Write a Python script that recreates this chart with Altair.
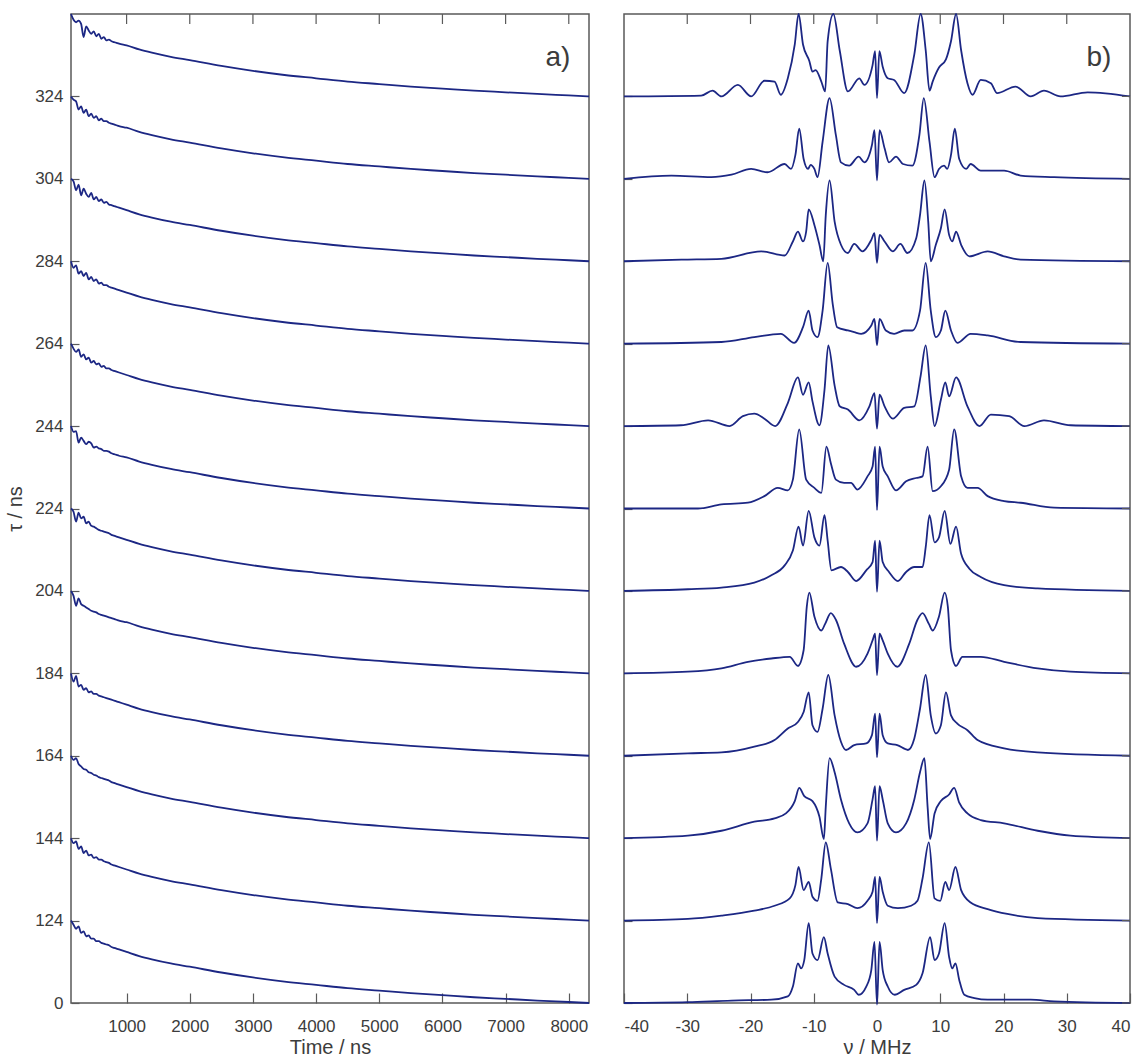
import altair as alt
import pandas as pd

FONT = "Liberation Sans"
LINE = "#1c2784"
GREY = "#5a5a5a"
TXT = "#3c3c3c"

# trace start values (tau, ns), bottom to top
TAU = [124, 144, 164, 184, 204, 224, 244, 264, 284, 304, 324, 344]
Y_TICKS = [104, 124, 144, 164, 184, 204, 224, 244, 264, 284, 304, 324]
X_TICKS_L = [1000, 2000, 3000, 4000, 5000, 6000, 7000, 8000]
X_TICKS_R = [-40, -30, -20, -10, 0, 10, 20, 30, 40]
TOP_TICKS_R = [-30, -20, -10, 0, 10, 20, 30]

# time grid (ns) for the echo decays
T_EARLY = [120, 160, 200, 240, 280, 320, 360, 400, 440, 480, 520, 560, 600, 640, 680, 720, 760, 800, 840, 880]
T_TAIL = [1000, 1200, 1400, 1700, 2000, 2500, 3000, 3500, 4000, 4500, 5000, 5500, 6000, 6500, 7000, 7500, 8000, 8320]

# normalised decay values, bottom trace first
DECAY_EARLY = [
    [1.00, 0.95, 0.90, 0.93, 0.85, 0.87, 0.81, 0.82, 0.78, 0.78, 0.75, 0.75, 0.73, 0.72, 0.71, 0.70, 0.68, 0.67, 0.66, 0.65],
    [1.00, 0.94, 0.96, 0.87, 0.90, 0.82, 0.85, 0.79, 0.80, 0.76, 0.77, 0.74, 0.74, 0.72, 0.71, 0.70, 0.68, 0.67, 0.66, 0.65],
    [1.00, 0.95, 0.97, 0.90, 0.87, 0.84, 0.83, 0.80, 0.79, 0.77, 0.76, 0.74, 0.73, 0.72, 0.71, 0.70, 0.68, 0.67, 0.66, 0.65],
    [1.00, 0.90, 0.97, 0.84, 0.86, 0.80, 0.82, 0.77, 0.78, 0.75, 0.75, 0.73, 0.72, 0.71, 0.70, 0.69, 0.68, 0.67, 0.66, 0.65],
    [1.00, 0.94, 0.82, 0.91, 0.84, 0.82, 0.80, 0.78, 0.76, 0.75, 0.74, 0.72, 0.71, 0.70, 0.69, 0.68, 0.67, 0.66, 0.65, 0.64],
    [1.00, 0.96, 0.84, 0.95, 0.88, 0.90, 0.82, 0.84, 0.79, 0.78, 0.76, 0.74, 0.73, 0.72, 0.71, 0.70, 0.68, 0.67, 0.66, 0.65],
    [1.00, 0.93, 0.94, 0.80, 0.86, 0.82, 0.78, 0.81, 0.79, 0.74, 0.75, 0.73, 0.72, 0.70, 0.70, 0.69, 0.67, 0.66, 0.65, 0.64],
    [1.00, 0.94, 0.90, 0.93, 0.84, 0.87, 0.81, 0.83, 0.77, 0.79, 0.75, 0.76, 0.72, 0.73, 0.70, 0.70, 0.68, 0.67, 0.66, 0.65],
    [1.00, 0.92, 0.95, 0.85, 0.88, 0.82, 0.86, 0.78, 0.81, 0.76, 0.78, 0.73, 0.74, 0.71, 0.71, 0.69, 0.68, 0.67, 0.66, 0.65],
    [1.00, 0.97, 0.86, 0.93, 0.80, 0.88, 0.82, 0.78, 0.83, 0.75, 0.78, 0.73, 0.75, 0.71, 0.72, 0.69, 0.68, 0.67, 0.66, 0.65],
    [1.00, 0.96, 0.94, 0.84, 0.88, 0.80, 0.84, 0.76, 0.79, 0.74, 0.76, 0.71, 0.73, 0.70, 0.70, 0.68, 0.67, 0.66, 0.65, 0.64],
    [1.00, 0.93, 0.90, 0.92, 0.88, 0.72, 0.85, 0.80, 0.76, 0.79, 0.73, 0.76, 0.70, 0.72, 0.68, 0.69, 0.67, 0.66, 0.65, 0.64],
]
DECAY_TAIL = [0.62, 0.57, 0.53, 0.48, 0.44, 0.37, 0.31, 0.26, 0.22, 0.18, 0.15, 0.12, 0.095, 0.07, 0.05, 0.03, 0.012, 0.0]

# spectra: (frequency MHz, normalised amplitude), bottom spectrum first
SPEC_0 = [(-40,0),(-29.9,0.01),(-23,0.03),(-16.7,0.04),(-14.1,0.08),(-13.3,0.2),(-12.5,0.48),(-12.0,0.42),(-11.5,0.52),(-10.8,0.97),(-10.2,0.6),(-9.4,0.52),(-8.4,0.8),(-7.8,0.6),(-6.7,0.32),(-5.2,0.22),(-3.6,0.16),(-2.9,0.1),(-1.7,0.2),(-0.9,0.4),(-0.4,0.74),(0,-0.02),(0.4,0.74),(0.9,0.4),(1.7,0.2),(2.8,0.1),(4.3,0.16),(6.2,0.22),(7.2,0.36),(8.4,0.8),(9.1,0.52),(9.8,0.6),(10.7,0.97),(11.4,0.56),(11.9,0.42),(12.4,0.48),(13.0,0.28),(13.8,0.1),(15.4,0.06),(17.5,0.04),(24.3,0.04),(28,0.02),(40,0)]
SPEC_1 = [(-40,0),(-29.9,0.02),(-24.6,0.06),(-19.4,0.12),(-16.2,0.18),(-13.8,0.27),(-12.9,0.43),(-12.4,0.65),(-11.6,0.37),(-10.8,0.47),(-10.2,0.29),(-9.4,0.24),(-8.8,0.51),(-8.1,0.95),(-7.3,0.63),(-6.2,0.22),(-4.6,0.2),(-3.1,0.15),(-1.5,0.24),(-0.7,0.35),(-0.3,0.53),(0,-0.03),(0.4,0.53),(0.9,0.35),(1.7,0.18),(3.3,0.15),(5.4,0.18),(6.4,0.24),(7.2,0.51),(8.2,0.95),(9.1,0.27),(10.0,0.24),(10.8,0.47),(11.4,0.37),(12.4,0.65),(13.3,0.37),(14.8,0.22),(17.5,0.14),(20.6,0.08),(25.4,0.03),(40,0)]
SPEC_2 = [(-40,0),(-29.9,0.03),(-24.6,0.09),(-19.4,0.2),(-16.2,0.24),(-14.4,0.3),(-13,0.45),(-12.3,0.61),(-11.5,0.51),(-10.2,0.45),(-9.1,0.26),(-8.4,-0.01),(-8.1,0.38),(-7.5,0.97),(-6.7,0.8),(-5.7,0.47),(-4.4,0.18),(-3.1,0.07),(-1.5,0.18),(-0.7,0.47),(-0.3,0.63),(0,-0.03),(0.4,0.63),(0.9,0.47),(1.7,0.18),(3.0,0.07),(4.6,0.18),(5.9,0.47),(6.8,0.8),(7.5,0.97),(8.0,0.38),(8.4,-0.01),(9.1,0.3),(10.1,0.45),(11.4,0.53),(12.2,0.61),(13.0,0.43),(14.3,0.3),(16.4,0.22),(20.1,0.18),(25.4,0.09),(30.6,0.03),(40,0)]
SPEC_3 = [(-40,0),(-29.9,0.03),(-24.6,0.04),(-19.4,0.11),(-16.2,0.19),(-14.1,0.33),(-12.5,0.41),(-11.6,0.53),(-10.8,0.77),(-10.2,0.37),(-9.4,0.29),(-8.6,0.57),(-7.7,0.98),(-6.7,0.49),(-5.7,0.17),(-4.9,0.07),(-3.6,0.13),(-1.7,0.15),(-0.8,0.25),(-0.3,0.51),(0,-0.02),(0.4,0.51),(0.9,0.25),(1.7,0.15),(3.2,0.13),(4.9,0.07),(5.9,0.21),(6.8,0.57),(7.7,0.98),(8.5,0.49),(9.3,0.27),(10.1,0.37),(10.9,0.77),(11.7,0.49),(12.7,0.39),(14.3,0.31),(15.9,0.19),(20.1,0.09),(25.4,0.04),(40,0)]
SPEC_4 = [(-40,0),(-29.9,0.02),(-24.6,0.06),(-20.4,0.14),(-16.7,0.18),(-13.8,0.2),(-12.5,0.09),(-11.6,0.28),(-11.1,0.81),(-10.7,0.98),(-9.9,0.69),(-8.8,0.52),(-8.2,0.6),(-7.3,0.73),(-6.5,0.65),(-5.2,0.36),(-3.3,0.08),(-1.5,0.24),(-0.7,0.4),(-0.3,0.48),(0,-0.02),(0.4,0.48),(0.9,0.4),(1.7,0.24),(3.2,0.08),(5.1,0.36),(6.4,0.65),(7.2,0.73),(8.2,0.6),(8.8,0.52),(9.8,0.69),(10.7,0.98),(11.2,0.81),(11.7,0.28),(12.5,0.09),(13.5,0.2),(16.4,0.2),(20.1,0.14),(25.4,0.06),(30.6,0.02),(40,0)]
SPEC_5 = [(-40,0),(-29.9,0.02),(-24.6,0.04),(-19.4,0.1),(-16.7,0.19),(-14.6,0.31),(-13.3,0.49),(-12.4,0.78),(-11.7,0.55),(-10.8,0.97),(-9.9,0.65),(-9.1,0.55),(-8.3,0.92),(-7.8,0.61),(-7.2,0.25),(-5.7,0.29),(-4.6,0.23),(-3.3,0.12),(-1.7,0.25),(-0.7,0.35),(-0.3,0.61),(0,-0.01),(0.4,0.61),(0.9,0.35),(1.9,0.23),(3.3,0.12),(4.6,0.23),(5.9,0.29),(7.2,0.29),(7.7,0.53),(8.3,0.92),(9.1,0.59),(9.8,0.65),(10.7,0.97),(11.6,0.57),(12.5,0.78),(13.3,0.45),(14.6,0.27),(16.4,0.17),(20.1,0.07),(25.4,0.03),(40,0)]
SPEC_6 = [(-40,0),(-28.3,0),(-24.6,0.05),(-20.4,0.07),(-17.8,0.15),(-15.7,0.25),(-14.1,0.22),(-13.3,0.35),(-12.3,0.96),(-11.2,0.35),(-9.9,0.25),(-8.8,0.19),(-8.0,0.75),(-7.3,0.55),(-6.5,0.35),(-5.2,0.31),(-4.1,0.31),(-3.1,0.23),(-1.5,0.39),(-0.7,0.51),(-0.3,0.75),(0,-0.02),(0.4,0.75),(0.9,0.51),(1.7,0.39),(3.0,0.22),(4.6,0.33),(6.2,0.37),(7.2,0.39),(8.0,0.75),(8.8,0.21),(10.1,0.27),(11.4,0.47),(12.2,0.96),(13.3,0.39),(14.3,0.25),(15.9,0.25),(17.5,0.15),(20.1,0.09),(22.7,0.07),(28,0.01),(40,0)]
SPEC_7 = [(-40,0),(-31,0.01),(-26.7,0.07),(-23.3,0),(-21.2,0.12),(-19.4,0.15),(-17.8,0.09),(-16.1,0),(-14.1,0.28),(-12.5,0.59),(-11.7,0.38),(-10.8,0.53),(-10.2,0.3),(-9.1,0.01),(-8.3,0.44),(-7.7,0.98),(-6.7,0.49),(-5.9,0.24),(-4.6,0.2),(-2.8,0.07),(-1.2,0.24),(-0.4,0.4),(0,-0.03),(0.4,0.38),(1.2,0.24),(2.5,0.09),(4.3,0.22),(5.9,0.24),(6.9,0.61),(7.7,0.98),(8.5,0.36),(9.1,0),(10.1,0.32),(10.8,0.53),(11.4,0.36),(12.5,0.59),(14.3,0.24),(16.2,0),(18,0.14),(20.9,0.12),(23.3,0),(26.4,0.07),(30.6,0.01),(40,0)]
SPEC_8 = [(-40,0),(-24.6,0.02),(-19.4,0.08),(-15.2,0.12),(-13.1,0.01),(-11.7,0.2),(-10.8,0.4),(-10.2,0.16),(-9.4,0.08),(-8.6,0.4),(-7.8,0.98),(-7.0,0.48),(-6.3,0.2),(-4.6,0.16),(-3.6,0.14),(-2.5,0.12),(-0.9,0.22),(-0.4,0.3),(0,-0.02),(0.4,0.3),(1.4,0.16),(2.7,0.12),(4.3,0.16),(5.6,0.16),(6.8,0.4),(7.7,0.98),(8.5,0.4),(9.3,0.08),(10.1,0.16),(10.8,0.4),(11.7,0.16),(12.7,0.01),(14.8,0.12),(17.5,0.1),(22.7,0.02),(40,0)]
SPEC_9 = [(-40,0),(-30.9,0.02),(-24.6,0.03),(-18.3,0.12),(-14.6,0.07),(-13.3,0.24),(-12.5,0.36),(-11.7,0.24),(-11.2,0.36),(-10.8,0.63),(-9.9,0.44),(-9.1,0.2),(-8.5,0),(-8.1,0.56),(-7.5,0.98),(-6.7,0.48),(-5.7,0.2),(-4.6,0.1),(-3.6,0.21),(-2.3,0.12),(-0.9,0.26),(-0.4,0.34),(0,-0.02),(0.4,0.32),(1.2,0.24),(2.5,0.12),(3.7,0.21),(4.8,0.1),(6.2,0.28),(6.8,0.56),(7.5,0.98),(8.1,0.48),(8.5,0),(9.3,0.2),(10.1,0.4),(10.7,0.63),(11.4,0.32),(11.9,0.24),(12.5,0.36),(13.3,0.2),(14.6,0.06),(17.5,0.12),(20.1,0.06),(22.7,0.02),(40,0)]
SPEC_10 = [(-40,0),(-32.5,0.04),(-26.2,0.02),(-23,0.05),(-19.9,0.12),(-17.3,0.08),(-14.6,0.18),(-13.6,0.12),(-12.9,0.29),(-12.3,0.61),(-11.6,0.24),(-10.9,0.12),(-10.5,0.17),(-9.9,0.12),(-9.4,0.02),(-8.6,0.45),(-7.5,0.98),(-6.5,0.53),(-5.7,0.2),(-4.4,0.16),(-2.9,0.27),(-2.0,0.2),(-0.8,0.41),(-0.4,0.59),(0,-0.02),(0.4,0.59),(1.2,0.37),(1.9,0.2),(3.0,0.27),(4.1,0.18),(5.6,0.16),(6.7,0.53),(7.4,0.98),(8.3,0.45),(9.1,0.02),(9.8,0.12),(10.6,0.16),(11.1,0.12),(11.7,0.29),(12.3,0.61),(13.0,0.24),(14.1,0.12),(14.8,0.18),(16.4,0.1),(20.1,0.1),(22.7,0.04),(28,0.02),(40,0)]
SPEC_11 = [(-40,0),(-27.8,0.01),(-26,0.07),(-24.6,0),(-22,0.14),(-19.9,0),(-17.8,0.19),(-16.2,0.18),(-15.2,0.02),(-14.1,0.22),(-13,0.63),(-12.4,1.0),(-11.7,0.63),(-10.7,0.43),(-10.2,0.3),(-9.7,0.32),(-8.8,0.18),(-8.2,0.06),(-7.8,0.67),(-6.9,1.0),(-5.9,0.56),(-4.6,0.06),(-2.8,0.22),(-2.0,0.14),(-0.7,0.38),(-0.3,0.55),(0,-0.02),(0.37,0.55),(0.9,0.36),(1.7,0.22),(2.7,0.2),(4.3,0.04),(5.9,0.51),(6.9,1.0),(7.7,0.56),(8.3,0.07),(8.8,0.18),(9.8,0.35),(10.9,0.45),(11.7,0.67),(12.5,1.0),(13.3,0.56),(14.3,0.16),(15.1,0.02),(16.4,0.2),(18,0.16),(19,0.04),(21.9,0.12),(24.3,0),(26.4,0.07),(29,0),(33.3,0.05),(40,0)]
SPECTRA = [SPEC_0, SPEC_1, SPEC_2, SPEC_3, SPEC_4, SPEC_5, SPEC_6, SPEC_7, SPEC_8, SPEC_9, SPEC_10, SPEC_11]

STEP = 20  # vertical offset between stacked traces

# ---- build tables ----
rows_d = []
for i, tau in enumerate(TAU):
    for order, (t, h) in enumerate(zip(T_EARLY + T_TAIL, DECAY_EARLY[i] + DECAY_TAIL)):
        rows_d.append({"trace": i, "o": order, "t": t, "y": tau - STEP + STEP * h})
df_decay = pd.DataFrame(rows_d)

rows_s = []
for i, tau in enumerate(TAU):
    for order, (nu, h) in enumerate(SPECTRA[i]):
        rows_s.append({"trace": i, "o": order, "nu": nu, "y": tau - STEP + STEP * h})
df_spec = pd.DataFrame(rows_s)

W1, W2, H = 518, 506, 989

common = dict(labelFont=FONT, labelFontSize=17, labelColor=TXT,
              titleFont=FONT, titleFontSize=20, titleColor=TXT, titleFontWeight="normal",
              tickColor=GREY, tickWidth=1.2, domain=False, grid=False)

yscale = alt.Scale(domain=[104, 344], nice=False, zero=False)

# ---- left panel ----
xL = alt.X("t:Q", scale=alt.Scale(domain=[120, 8320], nice=False, zero=False),
           axis=alt.Axis(values=X_TICKS_L, title="Time / ns", offset=-10, tickSize=10,
                         labelPadding=15, titlePadding=3, labelExpr="'' + datum.value", **common))
yL = alt.Y("y:Q", scale=yscale,
           axis=alt.Axis(values=Y_TICKS, title="τ / ns", offset=-8, tickSize=8,
                         labelPadding=8, titlePadding=9,
                         labelExpr="datum.value == 104 ? '0' : '' + datum.value", **common))

decay_lines = alt.Chart(df_decay).mark_line(color=LINE, strokeWidth=1.8, interpolate="monotone").encode(
    x=xL, y=yL, detail="trace:N", order="o:Q")

top_ticks_L = alt.Chart(pd.DataFrame({"t": X_TICKS_L})).mark_rule(color=GREY, strokeWidth=1.2).encode(
    x="t:Q", y=alt.value(0), y2=alt.value(10))

label_a = alt.Chart(pd.DataFrame({"s": ["a)"]})).mark_text(
    font=FONT, fontSize=28, color=TXT, align="center", baseline="middle").encode(
    x=alt.value(487), y=alt.value(44), text="s:N")

left = alt.layer(decay_lines, top_ticks_L, label_a).properties(width=W1, height=H)

# ---- right panel ----
xR = alt.X("nu:Q", scale=alt.Scale(domain=[-40, 40], nice=False, zero=False),
           axis=alt.Axis(values=X_TICKS_R, title="ν / MHz", offset=-10, tickSize=10,
                         labelPadding=15, titlePadding=3, labelExpr="'' + datum.value", **common))
yR = alt.Y("y:Q", scale=yscale,
           axis=alt.Axis(values=Y_TICKS, title=None, labels=False, offset=-8, tickSize=8, **common))

spec_lines = alt.Chart(df_spec).mark_line(color=LINE, strokeWidth=1.8, interpolate="monotone").encode(
    x=xR, y=yR, detail="trace:N", order="o:Q")

top_ticks_R = alt.Chart(pd.DataFrame({"nu": TOP_TICKS_R})).mark_rule(color=GREY, strokeWidth=1.2).encode(
    x="nu:Q", y=alt.value(0), y2=alt.value(10))

right_ticks_R = alt.Chart(pd.DataFrame({"y": Y_TICKS})).mark_rule(color=GREY, strokeWidth=1.2).encode(
    y="y:Q", x=alt.value(W2 - 8), x2=alt.value(W2))

label_b = alt.Chart(pd.DataFrame({"s": ["b)"]})).mark_text(
    font=FONT, fontSize=28, color=TXT, align="center", baseline="middle").encode(
    x=alt.value(475), y=alt.value(44), text="s:N")

right = alt.layer(spec_lines, top_ticks_R, right_ticks_R, label_b).properties(width=W2, height=H)

chart = alt.hconcat(left, right, spacing=35, bounds="flush").properties(
    padding={"left": 4, "top": 9, "right": 2, "bottom": 0},
    background="white",
).configure_view(stroke=GREY, strokeWidth=1.5)

chart.save("out.html", embed_options={"renderer": "svg", "actions": False})
